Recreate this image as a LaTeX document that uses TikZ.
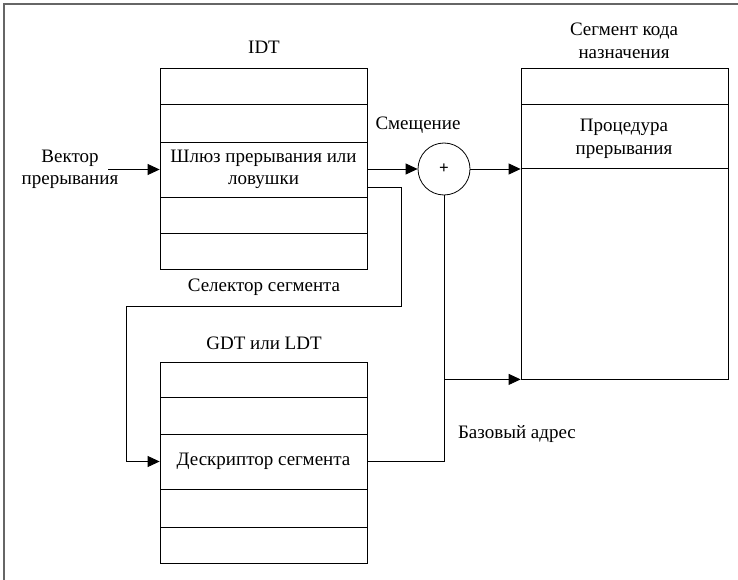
\documentclass[tikz,border=0pt]{standalone}
\usepackage{fontspec}
\setmainfont{LiberationSerif}[Extension=.ttf,UprightFont=*-Regular,BoldFont=*-Bold,ItalicFont=*-Italic,BoldItalicFont=*-BoldItalic]
\newfontfamily\tnr{LiberationSerif}[Extension=.ttf,UprightFont=*-Regular,BoldFont=*-Bold,ItalicFont=*-Italic,BoldItalicFont=*-BoldItalic]
\usetikzlibrary{arrows.meta}
\begin{document}
\begin{tikzpicture}[x=1pt,y=-1pt,
  lbl/.style={inner sep=0pt,align=center,font=\tnr\fontsize{19}{22.5}\selectfont},
  cell/.style={draw,line width=0.8pt,inner sep=0pt},
  conn/.style={line width=0.8pt},
  arr/.style={conn,-{Triangle[length=12pt,width=11pt]}}]
\useasboundingbox (0,0) rectangle (738,580);
\draw[gray!80!black,line width=1.2pt] (4,580) -- (4,4) -- (738,4);
% IDT
\node[lbl] (idtt) at (264,47) {IDT};
\node[cell,minimum width=207pt,minimum height=36pt] (i1) at (263.5,86) {};
\node[cell,minimum width=207pt,minimum height=38pt] (i2) at (263.5,123) {};
\node[cell,minimum width=207pt,minimum height=55pt,lbl] (i3) at (263.5,169.5) {Шлюз прерывания или\\ловушки};
\node[cell,minimum width=207pt,minimum height=36pt] (i4) at (263.5,215) {};
\node[cell,minimum width=207pt,minimum height=36pt] (i5) at (263.5,251) {};
% GDT
\node[lbl] (gdtt) at (264,343) {GDT или LDT};
\node[cell,minimum width=207pt,minimum height=35pt] (g1) at (263.5,379.5) {};
\node[cell,minimum width=207pt,minimum height=37pt] (g2) at (263.5,415.5) {};
\node[cell,minimum width=207pt,minimum height=55pt,lbl] (g3) at (263.5,461.5) {Дескриптор сегмента};
\node[cell,minimum width=207pt,minimum height=38pt] (g4) at (263.5,508) {};
\node[cell,minimum width=207pt,minimum height=36pt] (g5) at (263.5,545) {};
% Code segment
\node[lbl] (cst) at (624,41) {Сегмент кода\\назначения};
\node[cell,minimum width=207pt,minimum height=36pt] (c1) at (624.5,86) {};
\node[cell,minimum width=207pt,minimum height=64pt,anchor=north] (c2) at (624.5,104) {};
\node[lbl] (c2t) at (624,139) {Процедура\\прерывания};
\node[cell,minimum width=207pt,minimum height=211pt] (c3) at (624.5,273.5) {};
% adder
\node[draw,circle,line width=0.8pt,minimum size=52pt,inner sep=0pt,font=\tnr\bfseries\fontsize{17}{17}\selectfont] (add) at (444,169) {+};
% labels
\node[lbl] (vec) at (70,169.5) {Вектор\\прерывания};
\node[lbl] (off) at (418,125) {Смещение};
\node[lbl] (sel) at (264,287) {Селектор сегмента};
\node[lbl] (base) at (517,434) {Базовый адрес};
% connectors
\coordinate (vs) at (108,169.5);
\draw[arr] (vs) -- (i3.west);
\draw[arr] (i3.east |- add.west) -- (add.west);
\draw[arr] (add.east) -- (add.east -| c3.west);
\coordinate (s1) at (401,187);
\coordinate (s2) at (401,306);
\coordinate (s3) at (126,306);
\draw[arr] (i3.east |- s1) -- (s1) -- (s2) -- (s3) -- (s3 |- g3.west) -- (g3.west);
\draw[conn] (g3.east) -| (add.south);
\draw[arr] (add.south |- c3.south west) -- (c3.south west);
\end{tikzpicture}
\end{document}
